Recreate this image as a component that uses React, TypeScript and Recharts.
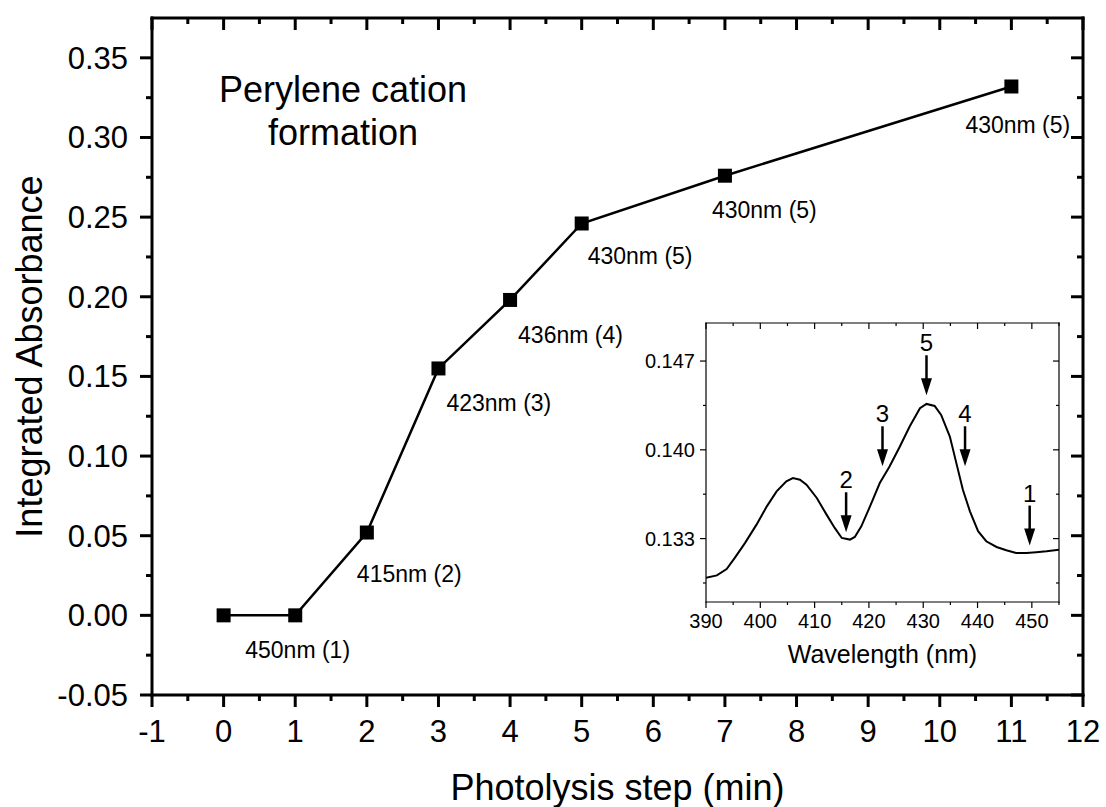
import { ComposedChart, Line, XAxis, YAxis, Scatter, LabelList, Label } from "recharts";

// main panel: integrated absorbance per photolysis step
const STEPS = [0, 1, 2, 3, 4, 5, 7, 11];
const ABSORBANCE = [0, 0, 0.052, 0.155, 0.198, 0.246, 0.276, 0.332];
const PEAK_LABELS = ["", "450nm (1)", "415nm (2)", "423nm (3)", "436nm (4)", "430nm (5)", "430nm (5)", "430nm (5)"];

const X_TICKS = [-1, -0.5, 0, 0.5, 1, 1.5, 2, 2.5, 3, 3.5, 4, 4.5, 5, 5.5, 6, 6.5, 7, 7.5, 8, 8.5, 9, 9.5, 10, 10.5, 11, 11.5, 12];
const Y_TICKS = [-0.05, -0.025, 0, 0.025, 0.05, 0.075, 0.1, 0.125, 0.15, 0.175, 0.2, 0.225, 0.25, 0.275, 0.3, 0.325, 0.35];

// inset: absorption spectrum
const WAVELENGTH = [390, 392, 393.8, 395.3, 397.2, 399.3, 401.2, 403, 404.8, 406, 407.3, 408.5, 410.4, 412.2, 413.7, 415, 416.5, 417.4, 418.6, 420.2, 422, 423.8, 425.7, 427.5, 429.4, 430.6, 432.1, 433.3, 434.9, 436.1, 437.3, 438.6, 440.1, 441.6, 443.5, 445.3, 447.1, 449, 450.8, 452.7, 455];
const INSET_ABS = [0.12991, 0.1301, 0.1306, 0.13148, 0.13266, 0.1341, 0.13554, 0.13672, 0.13751, 0.13777, 0.13764, 0.13725, 0.1362, 0.13489, 0.13384, 0.13305, 0.13292, 0.13313, 0.13397, 0.13554, 0.13738, 0.13869, 0.14026, 0.14184, 0.14328, 0.14362, 0.14346, 0.14275, 0.14105, 0.13895, 0.13685, 0.13515, 0.13358, 0.13279, 0.13234, 0.13208, 0.13187, 0.13187, 0.13193, 0.132, 0.13213];
const INSET_X_TICKS = [390, 395, 400, 405, 410, 415, 420, 425, 430, 435, 440, 445, 450, 455];
const INSET_Y_TICKS = [0.1295, 0.133, 0.1365, 0.14, 0.1435, 0.147];

const ARROW_NUMBERS = ["1", "2", "3", "4", "5"];
const ARROW_NM = [449.6, 415.8, 422.5, 437.7, 430.6];
const ARROW_TIP = [0.13245, 0.1335, 0.1387, 0.1387, 0.1443];

// where each peak label sits relative to its square: [dx of text start, dy of baseline]
const LABEL_OFFSETS = [[0, 0], [-50, 43], [-10, 49], [8, 43], [8, 43], [6, 41], [-13, 42], [-46, 47]];

const FONT = "'Liberation Sans', Arial, Helvetica, sans-serif";

const mainData = STEPS.map((s, i) => ({ step: s, abs: ABSORBANCE[i], label: PEAK_LABELS[i] }));
const spectrum = WAVELENGTH.map((w, i) => ({ nm: w, abs: INSET_ABS[i] }));
const arrows = ARROW_NM.map((w, i) => ({ nm: w, tip: ARROW_TIP[i], num: ARROW_NUMBERS[i] }));

const near = (a: number, b: number) => Math.abs(a - b) < 1e-6;
const mainYMajor = (v: number) => near(v * 20, Math.round(v * 20));
const insetYMajor = (v: number) => near((v - 0.133) / 0.007, Math.round((v - 0.133) / 0.007));

// ---- main axis ticks ----
function BottomTick({ x, y, payload }: any) {
  const major = Number.isInteger(payload.value);
  return (
    <g>
      <line x1={x} x2={x} y1={y} y2={y + (major ? 12 : 6)} stroke="#000" strokeWidth={3} />
      {major && (
        <text x={x} y={y + 47} textAnchor="middle" fontSize={31} fontFamily={FONT} fill="#000">
          {payload.value}
        </text>
      )}
    </g>
  );
}

function TopTick({ x, y, payload }: any) {
  const major = Number.isInteger(payload.value);
  return <line x1={x} x2={x} y1={y} y2={y + (major ? 12 : 6)} stroke="#000" strokeWidth={3} />;
}

function LeftTick({ x, y, payload }: any) {
  const major = mainYMajor(payload.value);
  return (
    <g>
      <line x1={x - (major ? 12 : 6)} x2={x} y1={y} y2={y} stroke="#000" strokeWidth={3} />
      {major && (
        <text x={x - 24} y={y + 11} textAnchor="end" fontSize={31} fontFamily={FONT} fill="#000">
          {payload.value.toFixed(2)}
        </text>
      )}
    </g>
  );
}

function RightTick({ x, y, payload }: any) {
  const major = mainYMajor(payload.value);
  return <line x1={x - (major ? 12 : 6)} x2={x} y1={y} y2={y} stroke="#000" strokeWidth={3} />;
}

// ---- inset axis ticks ----
function InsetBottomTick({ x, y, payload }: any) {
  const major = payload.value % 10 === 0;
  return (
    <g>
      <line x1={x} x2={x} y1={y} y2={y + (major ? 6 : 3)} stroke="#000" strokeWidth={1.2} />
      {major && (
        <text x={x} y={y + 26} textAnchor="middle" fontSize={20} fontFamily={FONT} fill="#000">
          {payload.value}
        </text>
      )}
    </g>
  );
}

function InsetTopTick({ x, y, payload }: any) {
  const major = payload.value % 10 === 0;
  return <line x1={x} x2={x} y1={y} y2={y + (major ? 6 : 3)} stroke="#000" strokeWidth={1.2} />;
}

function InsetLeftTick({ x, y, payload }: any) {
  const major = insetYMajor(payload.value);
  return (
    <g>
      <line x1={x - (major ? 6 : 3)} x2={x} y1={y} y2={y} stroke="#000" strokeWidth={1.2} />
      {major && (
        <text x={x - 11} y={y + 7} textAnchor="end" fontSize={20} fontFamily={FONT} fill="#000">
          {payload.value.toFixed(3)}
        </text>
      )}
    </g>
  );
}

function InsetRightTick({ x, y, payload }: any) {
  const major = insetYMajor(payload.value);
  return <line x1={x - (major ? 6 : 3)} x2={x} y1={y} y2={y} stroke="#000" strokeWidth={1.2} />;
}

function SquareDot(p: any) {
  if (p.cx == null || p.cy == null) return <g key={p.index} />;
  return <rect key={p.index} x={p.cx - 7} y={p.cy - 7} width={14} height={14} fill="#000" />;
}

function PeakLabel(p: any) {
  const vb = p.viewBox || {};
  const px = p.x ?? vb.x;
  const py = p.y ?? vb.y;
  if (!p.value || px == null) return null;
  const [dx, dy] = LABEL_OFFSETS[p.index] || [0, 0];
  return (
    <text x={px + dx} y={py + dy} fontSize={23} fontFamily={FONT} fill="#000">
      {p.value}
    </text>
  );
}

function ArrowMark(p: any) {
  const { cx, cy, payload } = p;
  return (
    <g>
      <line x1={cx} x2={cx} y1={cy - 40} y2={cy - 14} stroke="#000" strokeWidth={2.5} />
      <polygon points={`${cx - 5.5},${cy - 17} ${cx + 5.5},${cy - 17} ${cx},${cy}`} fill="#000" />
      <text x={cx} y={cy - 44} textAnchor="middle" fontSize={24} fontFamily={FONT} fill="#000">
        {payload.num}
      </text>
    </g>
  );
}

const mainAxisLine = { stroke: "#000", strokeWidth: 3, strokeLinecap: "square" as const };
const insetAxisLine = { stroke: "#000", strokeWidth: 1.2, strokeLinecap: "square" as const };

export default function App() {
  return (
    <div style={{ position: "absolute", left: 0, top: 0, width: 1106, height: 807, background: "#fff", fontFamily: FONT }}>
      <ComposedChart width={1106} height={807} data={mainData} margin={{ top: 17, right: 22, bottom: 0, left: 0 }}>
        <XAxis
          dataKey="step"
          type="number"
          domain={[-1, 12]}
          ticks={X_TICKS}
          interval={0}
          height={112}
          tickSize={0}
          tickMargin={0}
          tickLine={false}
          axisLine={mainAxisLine}
          tick={(p: any) => <BottomTick {...p} />}
          allowDataOverflow
        >
          <Label
            content={({ viewBox }: any) => (
              <text
                x={viewBox.x + viewBox.width / 2}
                y={viewBox.y + 105}
                textAnchor="middle"
                fontSize={36}
                fontFamily={FONT}
                fill="#000"
              >
                Photolysis step (min)
              </text>
            )}
          />
        </XAxis>
        <XAxis
          xAxisId="top"
          orientation="top"
          dataKey="step"
          type="number"
          domain={[-1, 12]}
          ticks={X_TICKS}
          interval={0}
          height={1}
          tickSize={0}
          tickMargin={0}
          tickLine={false}
          axisLine={mainAxisLine}
          tick={(p: any) => <TopTick {...p} />}
          allowDataOverflow
        />
        <YAxis
          type="number"
          domain={[-0.05, 0.375]}
          ticks={Y_TICKS}
          interval={0}
          width={152}
          tickSize={0}
          tickMargin={0}
          tickLine={false}
          axisLine={mainAxisLine}
          tick={(p: any) => <LeftTick {...p} />}
          allowDataOverflow
        >
          <Label
            content={({ viewBox }: any) => {
              const cy = viewBox.y + viewBox.height / 2;
              return (
                <text
                  x={42}
                  y={cy}
                  transform={`rotate(-90, 42, ${cy})`}
                  textAnchor="middle"
                  fontSize={36}
                  fontFamily={FONT}
                  fill="#000"
                >
                  Integrated Absorbance
                </text>
              );
            }}
          />
        </YAxis>
        <YAxis
          yAxisId="right"
          orientation="right"
          type="number"
          domain={[-0.05, 0.375]}
          ticks={Y_TICKS}
          interval={0}
          width={1}
          tickSize={0}
          tickMargin={0}
          tickLine={false}
          axisLine={mainAxisLine}
          tick={(p: any) => <RightTick {...p} />}
          allowDataOverflow
        />
        {/* invisible twin so the top/right frame axes have a series bound to them */}
        <Line
          xAxisId="top"
          yAxisId="right"
          dataKey="abs"
          stroke="none"
          dot={false}
          activeDot={false}
          legendType="none"
          isAnimationActive={false}
        />
        <Line
          type="linear"
          dataKey="abs"
          stroke="#000"
          strokeWidth={2.5}
          dot={(p: any) => <SquareDot {...p} key={p.index} />}
          activeDot={false}
          isAnimationActive={false}
        >
          <LabelList dataKey="label" content={(p: any) => <PeakLabel {...p} />} />
        </Line>
      </ComposedChart>

      <div
        style={{
          position: "absolute",
          left: 193,
          top: 68,
          width: 300,
          textAlign: "center",
          fontSize: 36,
          lineHeight: "43px",
          color: "#000",
        }}
      >
        Perylene cation
        <br />
        formation
      </div>

      <div style={{ position: "absolute", left: 620, top: 310 }}>
        <ComposedChart width={450} height={370} data={spectrum} margin={{ top: 12, right: 10, bottom: 0, left: 0 }}>
          <XAxis
            dataKey="nm"
            type="number"
            domain={[390, 455]}
            ticks={INSET_X_TICKS}
            interval={0}
            height={78}
            tickSize={0}
            tickMargin={0}
            tickLine={false}
            axisLine={insetAxisLine}
            tick={(p: any) => <InsetBottomTick {...p} />}
            allowDataOverflow
          >
            <Label
              content={({ viewBox }: any) => (
                <text
                  x={viewBox.x + viewBox.width / 2}
                  y={viewBox.y + 61}
                  textAnchor="middle"
                  fontSize={25}
                  fontFamily={FONT}
                  fill="#000"
                >
                  Wavelength (nm)
                </text>
              )}
            />
          </XAxis>
          <XAxis
            xAxisId="top"
            orientation="top"
            dataKey="nm"
            type="number"
            domain={[390, 455]}
            ticks={INSET_X_TICKS}
            interval={0}
            height={1}
            tickSize={0}
            tickMargin={0}
            tickLine={false}
            axisLine={insetAxisLine}
            tick={(p: any) => <InsetTopTick {...p} />}
            allowDataOverflow
          />
          <YAxis
            type="number"
            domain={[0.128, 0.15]}
            ticks={INSET_Y_TICKS}
            interval={0}
            width={86}
            tickSize={0}
            tickMargin={0}
            tickLine={false}
            axisLine={insetAxisLine}
            tick={(p: any) => <InsetLeftTick {...p} />}
            allowDataOverflow
          />
          <YAxis
            yAxisId="right"
            orientation="right"
            type="number"
            domain={[0.128, 0.15]}
            ticks={INSET_Y_TICKS}
            interval={0}
            width={1}
            tickSize={0}
            tickMargin={0}
            tickLine={false}
            axisLine={insetAxisLine}
            tick={(p: any) => <InsetRightTick {...p} />}
            allowDataOverflow
          />
          <Line
            xAxisId="top"
            yAxisId="right"
            dataKey="abs"
            stroke="none"
            dot={false}
            activeDot={false}
            legendType="none"
            isAnimationActive={false}
          />
          <Line
            type="linear"
            dataKey="abs"
            stroke="#000"
            strokeWidth={2}
            dot={false}
            activeDot={false}
            isAnimationActive={false}
          />
          <Scatter data={arrows} dataKey="tip" shape={(p: any) => <ArrowMark {...p} />} isAnimationActive={false} />
        </ComposedChart>
      </div>
    </div>
  );
}
